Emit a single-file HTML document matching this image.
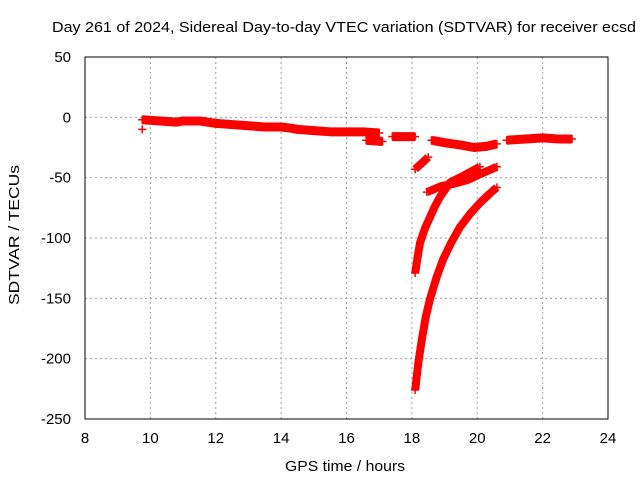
<!DOCTYPE html>
<html><head><meta charset="utf-8"><style>
body{margin:0;background:#fff;}
svg{display:block;font-family:"Liberation Sans",sans-serif;}
</style></head><body>
<svg id="chart" width="640" height="480">
<text x="52" y="32" font-size="15" textLength="584" lengthAdjust="spacingAndGlyphs">Day 261 of 2024, Sidereal Day-to-day VTEC variation (SDTVAR) for receiver ecsd</text>
<text x="285" y="471" font-size="15" textLength="120" lengthAdjust="spacingAndGlyphs">GPS time / hours</text>
<text x="0" y="0" font-size="15" textLength="140" lengthAdjust="spacingAndGlyphs" transform="translate(19,305) rotate(-90)">SDTVAR / TECUs</text>
<g id="grid"></g>
<g id="marks"></g>
<rect x="85" y="57" width="523" height="362" fill="none" stroke="#000" stroke-width="1"/>
</svg>
<script>
const xTicks=[8,10,12,14,16,18,20,22,24];
const yTicks=[50,0,-50,-100,-150,-200,-250];
const bandTop=[[9.75,-2],[10.3,-3],[10.8,-4],[11,-3],[11.5,-3],[12,-5],[12.5,-6],[13,-7],[13.5,-8],[14,-8],[14.3,-9],[14.5,-10],[15,-11],[15.5,-12],[16,-12],[16.5,-12],[17,-13]];
const bandLow=[[16.6,-19],[17.1,-20]];
const bandMid=[[17.4,-16],[18.1,-16]];
const bandDip=[[18.6,-19],[19,-21],[19.5,-23],[19.9,-25],[20.3,-24],[20.6,-22]];
const bandLate=[[20.9,-19],[21.5,-18],[22,-17],[22.5,-18],[22.9,-18]];
const segA=[[18.1,-43],[18.3,-38],[18.5,-33]];
const curveB=[[18.1,-129],[18.18,-115],[18.25,-104],[18.4,-92],[18.55,-83],[18.7,-74],[18.86,-66],[19.17,-54],[19.6,-48],[20.08,-41]];
const curveC=[[18.46,-62],[18.9,-57],[19.3,-55],[19.7,-52],[20.1,-47],[20.6,-41]];
const curveD=[[18.1,-226],[18.2,-203],[18.3,-185],[18.42,-166],[18.55,-151],[18.75,-133],[18.95,-118],[19.2,-104],[19.47,-91],[19.78,-80],[20.08,-71],[20.35,-64],[20.6,-58]];
const outliers=[[9.75,-10]];
const series=[bandTop,bandLow,bandMid,bandDip,bandLate,segA,curveB,curveC,curveD];
const X=h=>85+(h-8)*(523/16);
const Y=v=>57+(50-v)*(362/300);
const NS="http://www.w3.org/2000/svg";
const grid=document.getElementById('grid'),marks=document.getElementById('marks'),svg=document.getElementById('chart');
xTicks.forEach(t=>{
 const x=X(t);
 if(t>8&&t<24){const l=document.createElementNS(NS,'line');
 
 
 l.setAttribute('x1',x);l.setAttribute('x2',x);l.setAttribute('y1',57);l.setAttribute('y2',419);
 l.setAttribute('stroke','#a0a0a0');l.setAttribute('stroke-dasharray','2,3');grid.appendChild(l);}
 const tx=document.createElementNS(NS,'text');
 
 
 tx.setAttribute('x',x);tx.setAttribute('y',443);tx.setAttribute('font-size','15');tx.setAttribute('text-anchor','middle');tx.textContent=t;svg.appendChild(tx);
});
yTicks.forEach(t=>{
 const y=Y(t);
 if(t<50&&t>-250){const l=document.createElementNS(NS,'line');
 
 
 l.setAttribute('x1',85);l.setAttribute('x2',608);l.setAttribute('y1',y);l.setAttribute('y2',y);
 l.setAttribute('stroke','#a0a0a0');l.setAttribute('stroke-dasharray','2,3');grid.appendChild(l);}
 const tx=document.createElementNS(NS,'text');
 
 
 tx.setAttribute('x',71);tx.setAttribute('y',y+5);tx.setAttribute('font-size','15');tx.setAttribute('text-anchor','end');tx.textContent=t;svg.appendChild(tx);
});
function plus(h,v){
 const p=document.createElementNS(NS,'path');
 
 
 const x=X(h),y=Y(v);
 p.setAttribute('d',`M${x-4} ${y}H${x+4}M${x} ${y-4}V${y+4}`);
 p.setAttribute('stroke','#f00');p.setAttribute('stroke-width','1.5');marks.appendChild(p);
}
series.forEach((s,i)=>{
 const pl=document.createElementNS(NS,'polyline');
 
 
 pl.setAttribute('points',s.map(p=>X(p[0])+','+Y(p[1])).join(' '));
 pl.setAttribute('fill','none');pl.setAttribute('stroke','#f00');pl.setAttribute('stroke-width',i<5?'9':'8');pl.setAttribute('stroke-linejoin','round');
 marks.appendChild(pl);
 s.forEach(p=>plus(p[0],p[1]));
});
outliers.forEach(p=>plus(p[0],p[1]));
</script>
</body></html>
